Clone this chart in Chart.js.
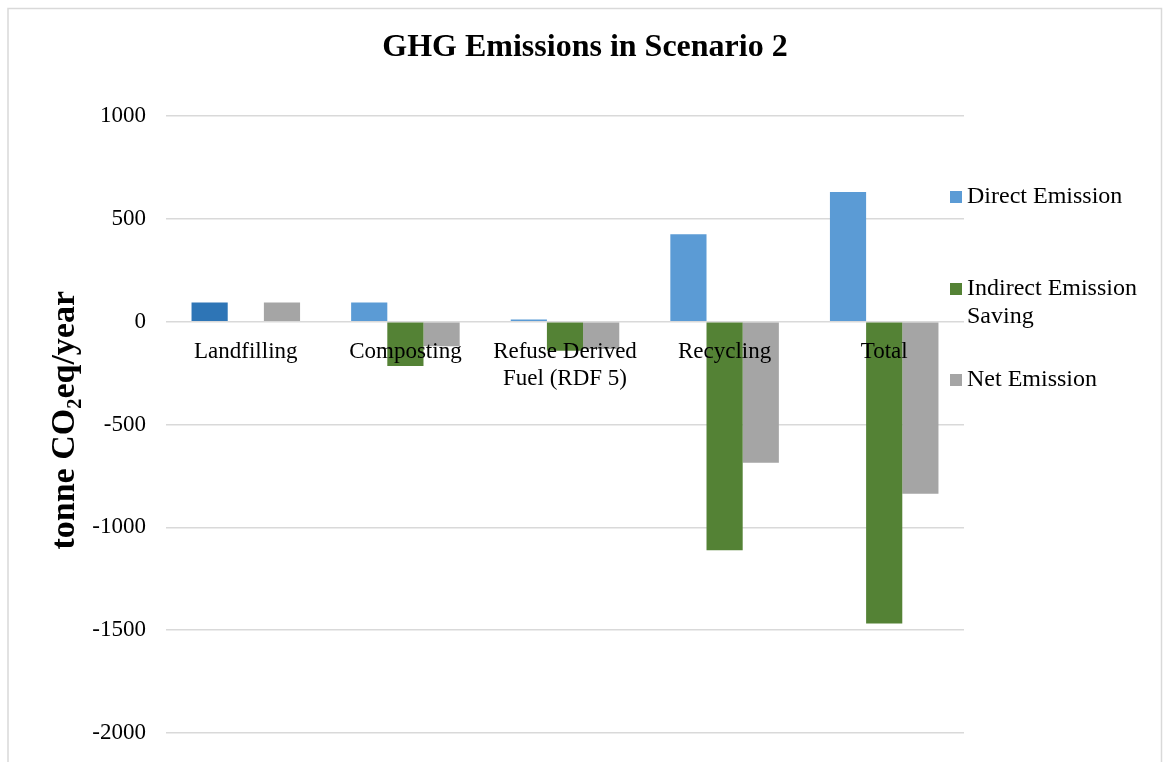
<!DOCTYPE html>
<html>
<head>
<meta charset="utf-8">
<script src="https://cdn.jsdelivr.net/npm/chart.js@4.4.1/dist/chart.umd.min.js"></script>
<style>
  html, body { margin: 0; padding: 0; background: #fff; }
  #wrap { width: 1163px; height: 762px; position: relative; }
</style>
</head>
<body>
<div id="wrap"><canvas id="c" width="1163" height="762"></canvas></div>
<script>
// ---- data ----
const categories = ["Landfilling", "Composting", ["Refuse Derived", "Fuel (RDF 5)"], "Recycling", "Total"];
const seriesNames = ["Direct Emission", ["Indirect Emission", "Saving"], "Net Emission"];
const directEmission = [93, 93, 10, 425, 630];
const indirectSaving = [0, -216, -141, -1111, -1468];
const netEmission = [93, -119, -133, -686, -837];
const yTicks = [1000, 500, 0, -500, -1000, -1500, -2000];

const FONT = "'Liberation Serif', 'Times New Roman', serif";
const cDirect = "#5B9BD5", cDirectDark = "#2E75B6", cIndirect = "#548235", cNet = "#A5A5A5";
const gridColor = "#D9D9D9";

const frame = {
  id: 'frame',
  beforeDraw(chart) {
    const ctx = chart.ctx;
    ctx.save();
    ctx.fillStyle = '#fff';
    ctx.fillRect(0, 0, chart.width, chart.height);
    ctx.strokeStyle = gridColor;
    ctx.lineWidth = 1.5;
    ctx.strokeRect(8, 8.5, 1153.5, 800);
    ctx.restore();
  }
};

const sideLegend = {
  id: 'sideLegend',
  afterDraw(chart) {
    const ctx = chart.ctx;
    const items = [
      { text: seriesNames[0], color: cDirect, y: 197 },
      { text: seriesNames[1], color: cIndirect, y: 289 },
      { text: seriesNames[2], color: cNet, y: 380 }
    ];
    ctx.save();
    ctx.font = "24px " + FONT;
    ctx.textBaseline = 'middle';
    ctx.textAlign = 'left';
    items.forEach(it => {
      ctx.fillStyle = it.color;
      ctx.fillRect(950, it.y - 6, 12, 12);
      ctx.fillStyle = '#000';
      const lines = Array.isArray(it.text) ? it.text : [it.text];
      lines.forEach((ln, i) => ctx.fillText(ln, 967, it.y + i * 28));
    });
    ctx.restore();
  }
};

new Chart(document.getElementById('c'), {
  type: 'bar',
  data: {
    labels: categories,
    datasets: [
      { label: "Direct Emission", data: directEmission,
        backgroundColor: directEmission.map((v, i) => i === 0 ? cDirectDark : cDirect) },
      { label: "Indirect Emission Saving", data: indirectSaving, backgroundColor: cIndirect },
      { label: "Net Emission", data: netEmission, backgroundColor: cNet }
    ]
  },
  options: {
    responsive: false,
    animation: false,
    devicePixelRatio: 1,
    layout: { padding: { left: 7, right: 0, top: 0, bottom: 29 } },
    datasets: { bar: { categoryPercentage: 0.68, barPercentage: 1.0 } },
    plugins: {
      legend: { display: false },
      tooltip: { enabled: false },
      title: {
        display: true,
        text: "GHG Emissions in Scenario 2",
        color: '#000',
        font: { family: FONT, size: 32, weight: 'bold', lineHeight: 1.2 },
        padding: { top: 29, bottom: 48.6 }
      }
    },
    scales: {
      x: {
        position: { y: 0 },
        grid: { display: false, drawTicks: false },
        border: { display: false },
        ticks: {
          z: 1,
          color: '#000',
          font: { family: FONT, size: 23, lineHeight: 1.2 },
          padding: 16,
          maxRotation: 0, minRotation: 0, autoSkip: false
        }
      },
      y: {
        min: -2000, max: 1000,
        afterFit(scale) { scale.width = 159; },
        afterBuildTicks(scale) { scale.ticks = yTicks.slice().reverse().map(v => ({ value: v })); },
        grid: { color: gridColor, lineWidth: 1.5, drawTicks: false },
        border: { display: false },
        ticks: {
          color: '#000',
          font: { family: FONT, size: 23, lineHeight: 0.3 },
          padding: 20,
          callback: (v) => String(v)
        },
        title: {
          display: true,
          text: " tonne CO\u2082eq/year",
          color: '#000',
          font: { family: FONT, size: 34, weight: 'bold', lineHeight: 1.2 },
          padding: { top: 38, bottom: 0 }
        }
      },
      yRight: {
        type: 'linear',
        position: 'right',
        display: true,
        afterFit(scale) { scale.width = 199; },
        grid: { display: false, drawTicks: false },
        border: { display: false },
        ticks: { display: false }
      }
    }
  },
  plugins: [frame, sideLegend]
});
</script>
</body>
</html>
